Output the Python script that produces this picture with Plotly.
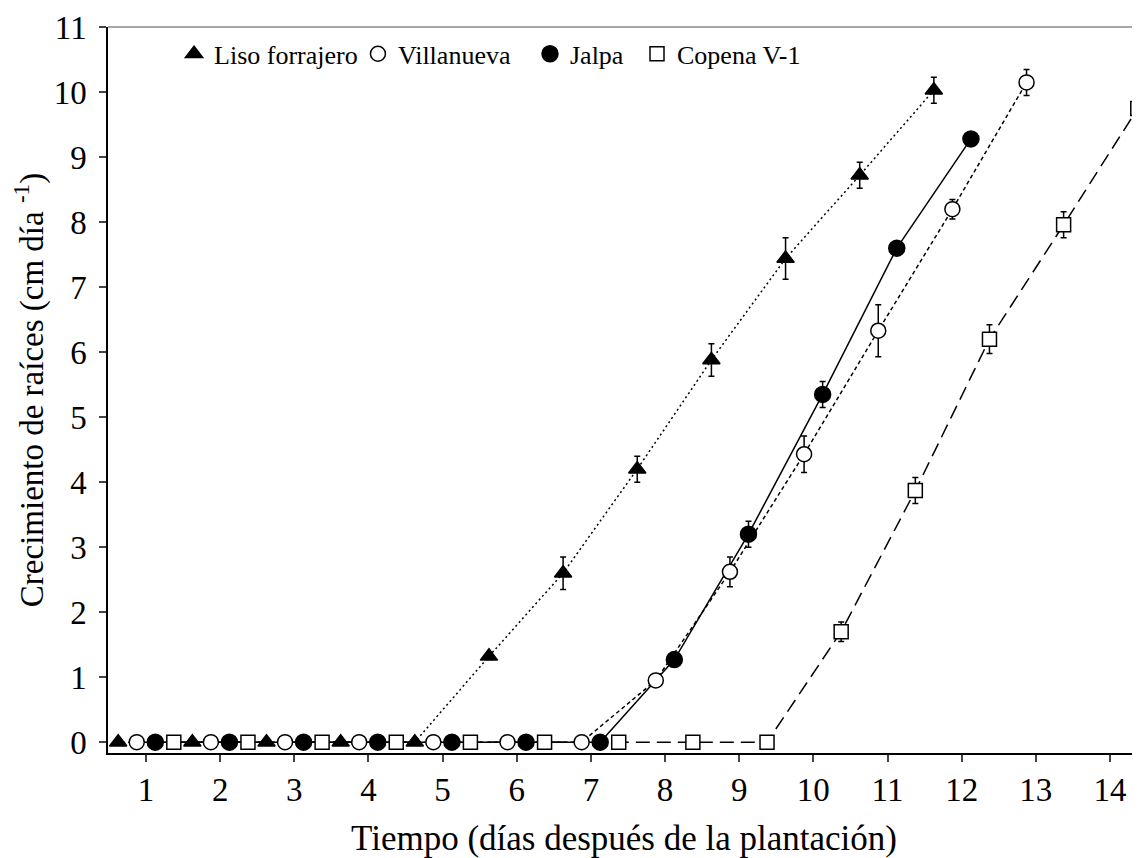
import plotly.graph_objects as go

# ---- data ----
days_liso = list(range(1, 13))
liso = [0, 0, 0, 0, 0, 1.32, 2.6, 4.2, 5.88, 7.44, 8.72, 10.03]
liso_err = [0, 0, 0, 0, 0, 0.05, 0.25, 0.2, 0.25, 0.32, 0.2, 0.2]

days_villa = list(range(1, 14))
villa = [0, 0, 0, 0, 0, 0, 0, 0.95, 2.62, 4.43, 6.33, 8.2, 10.15]
villa_err = [0, 0, 0, 0, 0, 0, 0, 0.05, 0.23, 0.28, 0.4, 0.15, 0.2]

days_jalpa = list(range(1, 13))
jalpa = [0, 0, 0, 0, 0, 0, 0, 1.27, 3.2, 5.35, 7.6, 9.28]
jalpa_err = [0, 0, 0, 0, 0, 0, 0, 0.04, 0.2, 0.2, 0.06, 0.06]

days_copena = list(range(1, 15))
copena = [0, 0, 0, 0, 0, 0, 0, 0, 0, 1.7, 3.87, 6.2, 7.96, 9.75]
copena_err = [0, 0, 0, 0, 0, 0, 0, 0, 0, 0.15, 0.2, 0.22, 0.2, 0.27]

names = ["Liso forrajero", "Villanueva", "Jalpa", "Copena V-1"]
x_ticks = list(range(1, 15))
y_ticks = list(range(0, 12))

# ---- styles ----
FONT = "Liberation Serif"
series = [
    (days_liso, liso, liso_err, -0.375, "triangle-up", "black", "2px,3px", 15),
    (days_villa, villa, villa_err, -0.125, "circle", "white", "4px,3px", 15),
    (days_jalpa, jalpa, jalpa_err, 0.125, "circle", "black", "solid", 16),
    (days_copena, copena, copena_err, 0.375, "square", "white", "14px,7px", 14),
]
legend_x = [0.064, 0.2422, 0.4089, 0.5126]

fig = go.Figure()
for (d, v, e, off, sym, fill, dash, msize) in series:
    fig.add_trace(go.Scatter(
        x=[k + off for k in d], y=v, mode="lines",
        line=dict(color="black", width=1.5, dash=dash),
        showlegend=False, hoverinfo="skip"))

for i, (d, v, e, off, sym, fill, dash, msize) in enumerate(series):
    fig.add_trace(go.Scatter(
        x=[k + off for k in d], y=v, mode="markers", name=names[i],
        marker=dict(symbol=sym, size=msize, color=fill,
                    line=dict(color="black", width=1.5)),
        error_y=dict(type="data", array=e, visible=True, color="black",
                     thickness=1.5, width=3),
        legend="legend" if i == 0 else f"legend{i+1}"))

legend_common = dict(
    y=0.963, yanchor="middle", xanchor="left", bgcolor="rgba(0,0,0,0)",
    font=dict(family=FONT, size=26, color="black"), borderwidth=0)
layout_legends = {}
for i, lx in enumerate(legend_x):
    key = "legend" if i == 0 else f"legend{i+1}"
    layout_legends[key] = dict(x=lx, **legend_common)

fig.update_layout(
    width=1132, height=850,
    margin=dict(l=100, r=0, t=19, b=105),
    plot_bgcolor="white", paper_bgcolor="white",
    font=dict(family=FONT, color="black"),
    xaxis=dict(range=[0.4875, 14.405], tickvals=x_ticks, ticks="outside",
               ticklen=7, tickwidth=1.5, showline=True, linecolor="black",
               linewidth=1.5, showgrid=False, zeroline=False,
               automargin=False,
               tickfont=dict(family=FONT, size=33),
               title=dict(text="Tiempo (días después de la plantación)",
                          font=dict(family=FONT, size=35), standoff=18)),
    yaxis=dict(range=[-0.167, 11.002], tickvals=y_ticks, ticks="outside",
               ticklen=7, tickwidth=1.5, showline=True, linecolor="black",
               linewidth=1.5, showgrid=False, zeroline=False,
               automargin=False,
               ticklabelstandoff=6, ticklabeloverflow="allow",
               tickfont=dict(family=FONT, size=33),
               title=dict(text="Crecimiento de raíces (cm día <sup>-1</sup>)",
                          font=dict(family=FONT, size=33), standoff=8)),
    shapes=[dict(type="line", xref="paper", yref="paper", x0=0, x1=1,
                 y0=1, y1=1, line=dict(color="#888888", width=1.5))],
    **layout_legends,
)

fig.write_html("out.html")
